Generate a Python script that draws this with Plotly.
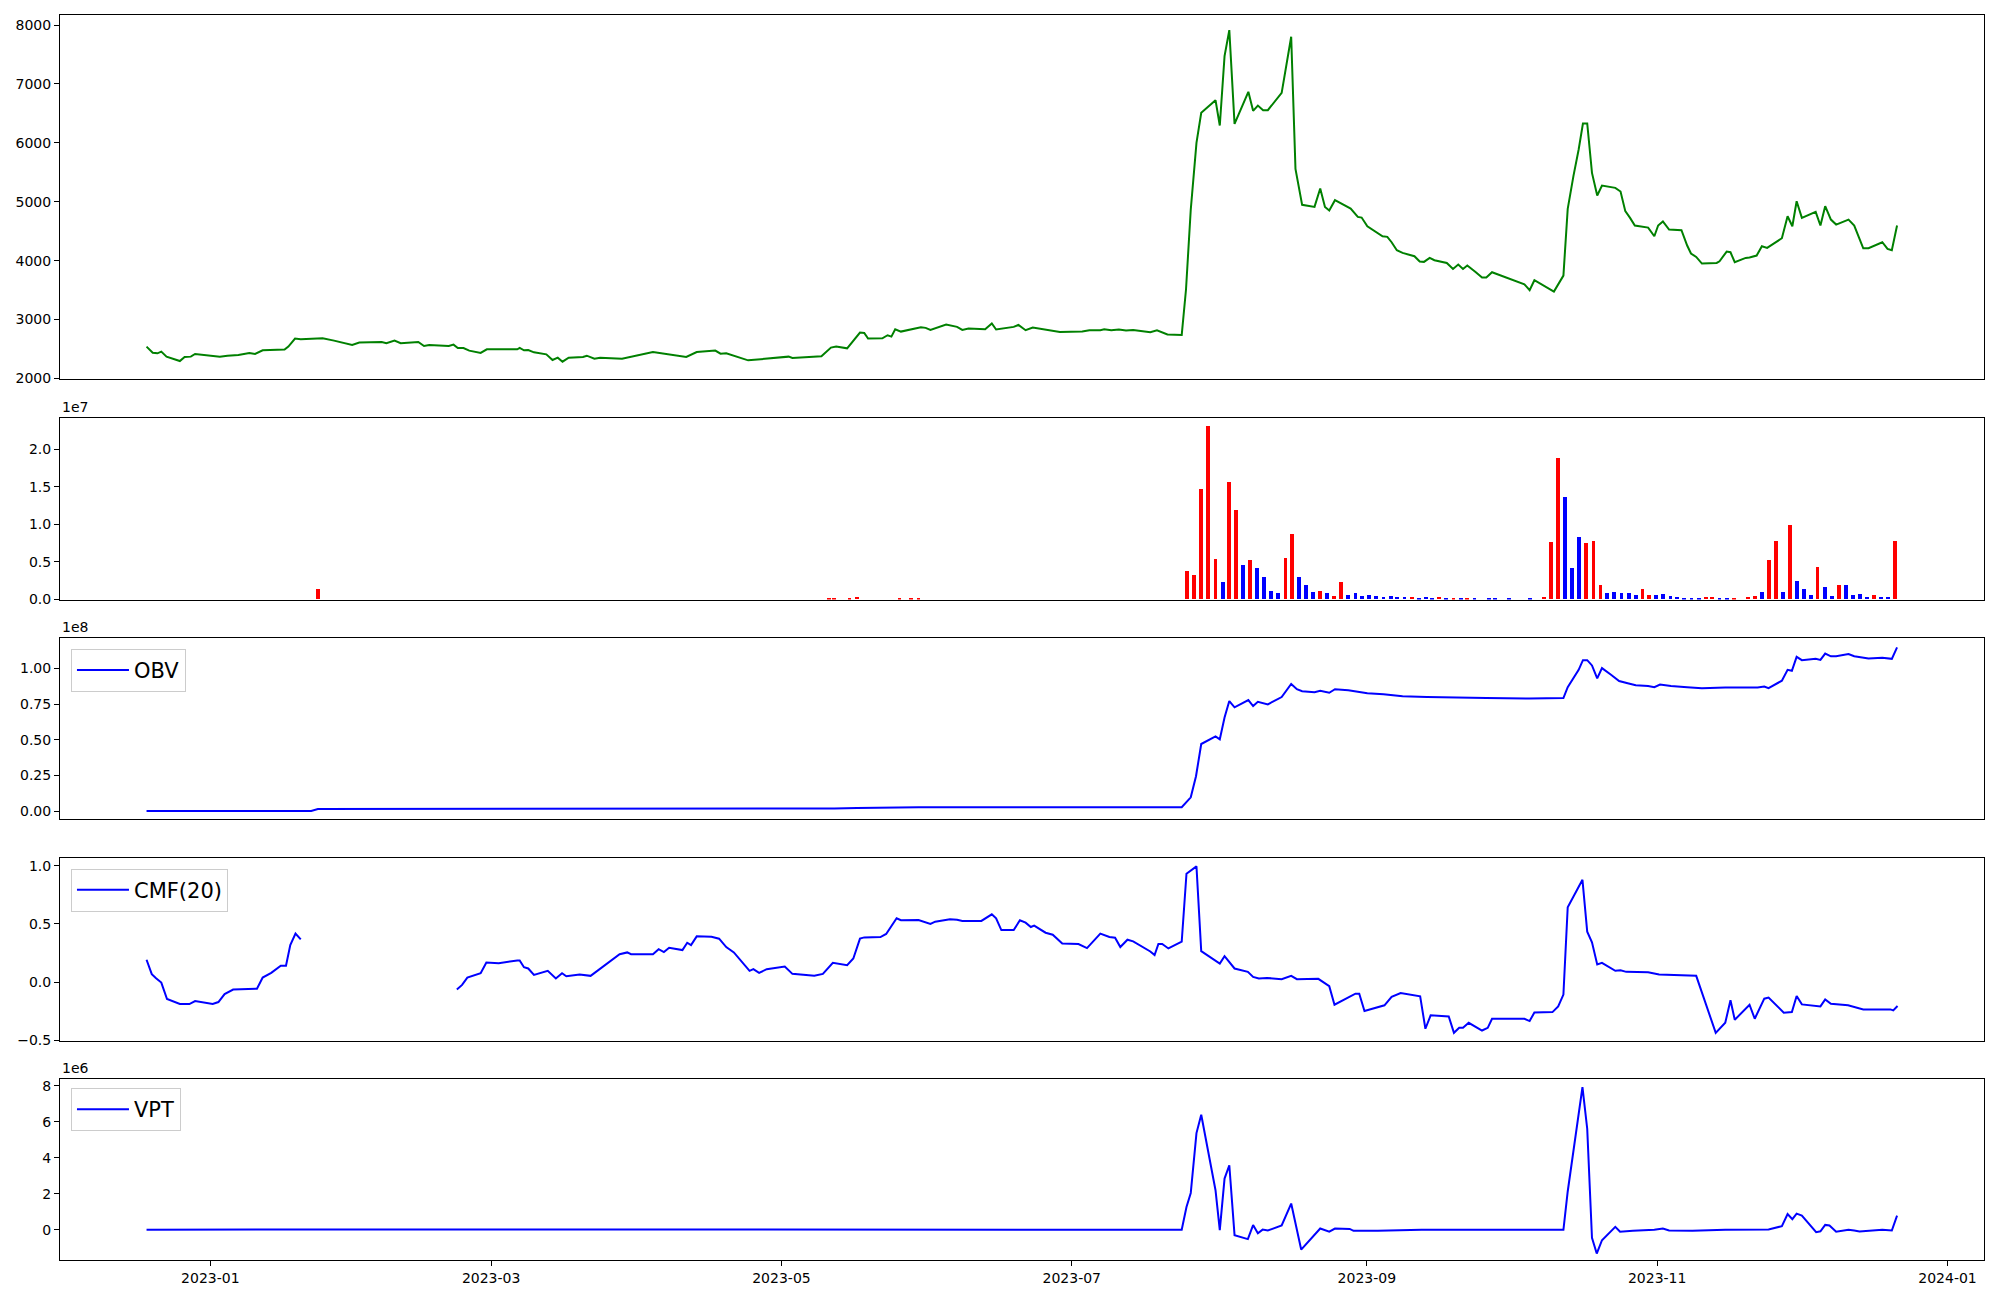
import pandas as pd
import plotly.graph_objects as go
from plotly.subplots import make_subplots

BASE = pd.Timestamp("2023-01-01")

price_day = [-13.4, -12.1, -11.1, -10.3, -9.2, -6.4, -5.4, -4.1, -3.2, 2.0, 3.6, 5.9, 8.2, 9.4, 11.0,
             15.6, 16.4, 17.8, 19.0, 23.6, 26.0, 29.8, 31.3, 36.0, 37.0, 38.7, 40.0, 43.7, 44.9, 46.0,
             50.1, 51.1, 52.0, 53.2, 54.4, 56.8, 58.1, 64.5, 65.0, 65.9, 66.8, 68.0, 70.6, 71.9, 73.0,
             74.0, 75.3, 78.3, 79.1, 80.7, 81.9, 86.5, 93.0, 100.0, 102.2, 106.1, 107.2, 108.4, 113.0, 121.5,
             122.3, 128.4, 130.4, 131.5, 133.8, 136.5, 137.4, 138.2, 141.2, 142.3, 143.1, 143.9, 145.1, 149.3, 150.3,
             151.3, 154.6, 156.9, 158.0, 159.3, 162.8, 164.2, 165.1, 168.8, 169.8, 171.3, 172.8, 175.5, 178.5, 183.2,
             184.7, 187.0, 187.8, 189.3, 190.9, 192.4, 193.9, 197.5,
             198.9, 201.1, 204.1, 205.0, 206.0, 207.2, 208.2, 211.2, 212.1, 213.1, 214.1, 215.2, 216.6, 218.1, 219.1,
             220.1, 221.2, 222.2, 225.1, 227.1, 228.0, 229.4, 232.0, 233.2, 234.2, 235.1, 236.3, 237.9, 239.6, 241.1,
             241.9, 243.1, 244.8, 246.3, 247.3, 248.2, 249.3, 250.5, 253.0, 254.1, 255.0, 256.2, 257.2, 259.8, 261.1,
             262.2, 263.2, 264.1, 265.9, 267.2, 268.1, 269.3, 276.1, 277.2, 278.2, 282.3, 284.3, 285.2, 286.4, 287.5,
             288.4, 289.3, 290.3, 291.4, 292.4, 295.2, 296.3, 297.3, 298.3, 299.3, 302.1, 303.4, 304.2, 305.2, 306.5,
             309.1, 310.3, 311.1, 312.2, 313.4, 316.5, 317.1, 318.6, 319.4, 320.3, 322.6, 323.4, 324.9, 326.0, 327.1,
             330.2, 331.4, 332.4, 333.3, 334.4, 337.3, 338.3, 339.3, 340.5, 341.6, 344.2, 345.4, 347.3, 348.4, 351.3,
             352.4, 353.3, 354.4]
price = [2540, 2437, 2426, 2455, 2370, 2295, 2364, 2370, 2415, 2370, 2386, 2398, 2432, 2415, 2477,
         2489, 2540, 2676, 2665, 2682, 2642, 2568, 2608, 2619, 2597, 2642, 2597, 2620, 2551, 2568,
         2551, 2574, 2517, 2517, 2472, 2432, 2494, 2494, 2517, 2477, 2483, 2443, 2409, 2313, 2352,
         2284, 2352, 2364, 2386, 2335, 2352, 2335, 2449, 2364, 2449, 2472, 2420, 2426, 2307, 2370,
         2347, 2375, 2523, 2540, 2511, 2778, 2773, 2676, 2682, 2733, 2710, 2835, 2795, 2869, 2858,
         2824, 2915, 2875, 2824, 2847, 2835, 2932, 2830, 2875, 2909, 2818, 2864, 2835, 2790, 2795,
         2818, 2818, 2835, 2818, 2830, 2812, 2824, 2784,
         2818, 2745, 2739, 3509, 4867, 6000, 6509, 6724, 6294, 7472, 7914, 6322, 6594, 6866, 6543,
         6632, 6554, 6554, 6849, 7800, 5558, 4947, 4912, 5224, 4912, 4850, 5026, 4963, 4884, 4743,
         4731, 4584, 4499, 4414, 4403, 4312, 4176, 4131, 4075, 3984, 3979, 4046, 4007, 3961, 3859,
         3933, 3859, 3916, 3803, 3712, 3712, 3803, 3599, 3497, 3667, 3474, 3746, 4879, 5434, 5887,
         6328, 6328, 5490, 5105, 5275, 5235, 5173, 4839, 4726, 4596, 4561, 4414, 4596, 4664, 4527,
         4516, 4256, 4120, 4063, 3950, 3961, 3989, 4154, 4142, 3973, 4046, 4052, 4086, 4244, 4216,
         4380, 4754, 4584, 5008, 4726, 4828, 4596, 4924, 4697, 4612, 4697, 4596, 4210, 4210, 4312,
         4199, 4176, 4596]

# volume in millions, R = up day (red), B = down day (blue)
vol_day = [22.6, 130.0, 131.1, 134.3, 135.9, 144.8, 147.2, 148.8,
           205.2, 206.7, 208.2, 209.7, 211.2, 212.7, 214.1, 215.5, 217.0, 218.5, 219.9, 221.4, 222.9, 224.4,
           225.9, 227.3, 228.8, 230.2, 231.7, 233.2, 234.6, 236.1, 237.6, 239.1, 240.6, 242.0, 243.5, 245.0,
           246.5, 248.0, 249.4, 250.9, 252.4, 253.9, 255.4, 256.7, 258.2, 259.7, 261.2, 262.7, 264.1, 265.6,
           268.6, 270.0, 272.9, 277.2, 280.2, 281.7, 283.2, 284.6, 286.1, 287.6, 289.1, 290.6, 292.1, 293.5,
           295.0, 296.5, 298.0, 299.5, 300.9, 302.3, 303.8, 305.3, 306.8, 308.2, 309.7, 311.2, 312.7, 314.2,
           315.6, 317.1, 318.6, 320.1, 323.0, 324.5, 326.0, 327.5, 329.0, 330.4, 331.9, 333.4, 334.9, 336.3,
           337.7, 339.2, 340.7, 342.2, 343.7, 345.1, 346.6, 348.1, 349.6, 351.1, 352.5, 354.0]
vol_m = [1.40, 0.15, 0.15, 0.15, 0.30, 0.15, 0.15, 0.15,
         3.77, 3.24, 14.69, 23.08, 5.37, 2.31, 15.62, 11.90, 4.57, 5.24, 4.17, 2.97, 1.11, 0.84,
         5.50, 8.70, 2.97, 1.91, 0.98, 1.11, 0.84, 0.44, 2.31, 0.58, 0.84, 0.44, 0.58, 0.44,
         0.31, 0.44, 0.31, 0.31, 0.31, 0.18, 0.31, 0.18, 0.31, 0.18, 0.18, 0.18, 0.18, 0.18,
         0.18, 0.18, 0.18, 0.18, 0.31, 7.63, 18.82, 13.63, 4.17, 8.30, 7.50, 7.77, 1.91, 0.84,
         0.98, 0.84, 0.84, 0.58, 1.38, 0.58, 0.58, 0.71, 0.44, 0.31, 0.18, 0.18, 0.18, 0.31,
         0.31, 0.18, 0.18, 0.18, 0.31, 0.44, 0.98, 5.24, 7.77, 0.98, 9.90, 2.44, 1.38, 0.58,
         4.31, 1.64, 0.44, 1.91, 1.91, 0.58, 0.71, 0.31, 0.58, 0.31, 0.31, 7.77]
vol_dir = list("RRRRRRRR"
               "RRRRRBRRBRBBBB"
               "RRBBBRBRRBBBBB"
               "BBBBRBBBRBRBRB"
               "BBBBRRRBBBRRRB"
               "BBBBRRBBBBBBBR"
               "RBBRRRBRRBRBBB"
               "RBBRBBBBRBBR")

obv_day = [-13.4, 21.2, 22.6, 129.5, 131.1, 135.9, 148.8, 204.1, 206.0, 207.1, 208.2, 211.2, 212.1, 213.1, 214.1,
           215.2, 218.1, 219.1, 220.1, 222.2, 225.1, 227.1, 228.3, 229.4, 232.0, 233.2, 235.1, 236.3, 239.1, 243.1,
           246.5, 250.5, 255.6, 268.1, 277.2, 284.3, 285.2, 287.5, 288.4, 289.3, 290.3, 291.4, 292.4, 294.3, 296.0,
           297.8, 299.5, 302.1, 303.4, 304.6, 306.9, 310.3, 313.4, 318.3, 325.1, 326.5, 327.4, 330.2, 331.4, 332.3,
           333.3, 334.4, 337.3, 338.3, 339.3, 340.5, 341.6, 344.2, 345.4, 348.4, 351.3, 353.3, 354.4]
obv_e8 = [0.0, 0.0, 0.014, 0.014, 0.018, 0.022, 0.027, 0.027, 0.096, 0.244, 0.470, 0.524, 0.503, 0.656, 0.771,
          0.727, 0.778, 0.736, 0.766, 0.748, 0.799, 0.891, 0.854, 0.840, 0.833, 0.843, 0.829, 0.854, 0.847, 0.826,
          0.819, 0.805, 0.799, 0.792, 0.789, 0.792, 0.868, 0.990, 1.058, 1.058, 1.021, 0.930, 1.002, 0.956, 0.912,
          0.896, 0.882, 0.877, 0.868, 0.887, 0.877, 0.868, 0.861, 0.866, 0.866, 0.873, 0.861, 0.914, 0.990, 0.983,
          1.081, 1.058, 1.067, 1.060, 1.104, 1.085, 1.085, 1.101, 1.085, 1.069, 1.074, 1.067, 1.148]

# CMF(20), None marks the stretch with no value
cmf_day = [-13.4, -12.3, -11.4, -10.3, -9.1, -6.4, -4.4, -3.2, 0.5, 1.7, 3.0, 4.8, 9.8, 11.0, 12.8,
           14.8, 15.9, 16.8, 17.9, 19.0, 35.0,
           51.8, 52.9, 54.0, 56.8, 58.0, 60.6, 64.5, 65.0, 65.9, 66.8, 68.0, 70.9, 72.6, 73.9, 74.8,
           77.6, 79.9, 86.0, 87.6, 88.4, 93.0, 94.2, 95.3, 96.4, 99.2, 100.2, 101.0, 102.2, 105.3, 106.9,
           108.4, 110.0, 113.3, 114.1, 115.3, 116.9, 120.7, 122.3, 126.9, 128.7, 130.8, 133.8, 135.1, 136.5, 137.4,
           140.8, 142.0, 144.2, 145.1, 148.8, 151.3, 152.3, 155.4, 156.9, 158.0, 162.0, 164.2, 165.1, 166.2, 168.8,
           170.1, 171.3, 172.4, 173.1, 175.5, 177.0, 179.0, 182.4, 184.2, 187.0, 188.9, 190.1, 191.2, 192.7, 193.9,
           197.5,
           198.4, 199.2, 200.0, 201.3, 204.1, 205.1, 207.2, 208.2, 212.1, 213.1, 215.2, 218.0, 219.1, 220.3, 222.0,
           225.1, 227.1, 228.3, 232.8, 235.1, 236.2, 240.6, 241.4, 242.5, 246.7, 248.2, 250.1, 254.2, 255.3, 256.4,
           260.2, 261.3, 262.4, 263.2, 264.4, 267.2, 268.4, 269.3, 276.1, 277.2, 278.2, 282.0, 283.2, 284.3, 285.2,
           286.4, 288.3, 289.3, 290.3, 291.4, 292.4, 295.2, 296.3, 297.5, 302.1, 304.4, 312.2, 316.3, 318.3, 319.4,
           320.3, 323.4, 324.5, 326.5, 327.4, 330.6, 332.3, 333.3, 334.4, 338.3, 339.3, 340.5, 344.1, 347.3, 353.0,
           353.6, 354.5]
cmf = [0.193, 0.069, 0.034, -0.003, -0.144, -0.187, -0.187, -0.161, -0.187, -0.170, -0.101, -0.063, -0.055, 0.040, 0.080,
       0.141, 0.141, 0.319, 0.417, 0.368, None,
       -0.063, -0.023, 0.040, 0.078, 0.170, 0.164, 0.187, 0.187, 0.129, 0.118, 0.063, 0.098, 0.032, 0.078, 0.052,
       0.066, 0.055, 0.241, 0.256, 0.241, 0.241, 0.284, 0.259, 0.296, 0.276, 0.339, 0.319, 0.394, 0.391, 0.374,
       0.302, 0.256, 0.098, 0.112, 0.080, 0.112, 0.135, 0.072, 0.055, 0.072, 0.167, 0.147, 0.204, 0.374, 0.385,
       0.388, 0.414, 0.549, 0.532, 0.534, 0.500, 0.520, 0.540, 0.537, 0.526, 0.526, 0.583, 0.549, 0.448, 0.448,
       0.532, 0.511, 0.474, 0.486, 0.425, 0.408, 0.333, 0.328, 0.293, 0.417, 0.388, 0.382, 0.302, 0.365, 0.351,
       0.264,
       0.233, 0.328, 0.328, 0.290, 0.348, 0.931, 0.994, 0.267, 0.161, 0.224, 0.118, 0.089, 0.046, 0.032, 0.037,
       0.026, 0.055, 0.026, 0.029, -0.034, -0.193, -0.098, -0.098, -0.247, -0.198, -0.126, -0.092, -0.121, -0.399, -0.284,
       -0.293, -0.434, -0.391, -0.391, -0.348, -0.414, -0.391, -0.313, -0.313, -0.333, -0.259, -0.256, -0.207, -0.106, 0.644,
       0.736, 0.879, 0.434, 0.342, 0.152, 0.167, 0.098, 0.103, 0.089, 0.086, 0.066, 0.055, -0.434, -0.348, -0.155,
       -0.322, -0.193, -0.313, -0.141, -0.132, -0.261, -0.256, -0.118, -0.190, -0.207, -0.147, -0.184, -0.198, -0.233, -0.233,
       -0.241, -0.204]

vpt_day = [-13.4, 22.6, 204.1, 205.1, 206.0, 207.2, 208.2, 210.0, 211.2, 212.1, 213.1, 214.1, 215.2, 218.0, 219.1,
           220.1, 221.1, 222.2, 225.1, 227.1, 229.2, 233.2, 235.1, 236.3, 239.4, 240.2, 245.3, 254.5, 284.3, 285.2,
           286.4, 288.3, 289.3, 290.3, 291.3, 292.4, 295.2, 296.2, 298.9, 303.4, 305.2, 306.5, 311.4, 318.3, 327.4,
           330.2, 331.4, 332.4, 333.3, 334.4, 337.4, 338.3, 339.3, 340.2, 341.6, 344.2, 345.4, 346.5, 351.3, 353.3,
           354.4]
vpt_e6 = [0.0, 0.02, 0.0, 1.27, 2.05, 5.38, 6.40, 3.86, 2.20, -0.02, 2.85, 3.59, -0.30, -0.52, 0.26,
          -0.19, 0.01, -0.04, 0.24, 1.46, -1.10, 0.07, -0.10, 0.07, 0.05, -0.06, -0.06, 0.0, 0.0, 2.13,
          4.35, 7.93, 5.62, -0.45, -1.32, -0.58, 0.16, -0.11, -0.06, 0.0, 0.07, -0.04, -0.06, 0.0, 0.02,
          0.20, 0.88, 0.59, 0.90, 0.79, -0.13, -0.08, 0.27, 0.24, -0.11, 0.0, -0.04, -0.10, 0.0, -0.04,
          0.79]

x_ticks = ["2023-01-01", "2023-03-01", "2023-05-01", "2023-07-01", "2023-09-01", "2023-11-01", "2024-01-01"]


def to_dates(days):
    return [BASE + pd.Timedelta(days=d) for d in days]


FONT = "DejaVu Sans"
fig = make_subplots(rows=5, cols=1)

fig.add_trace(go.Scatter(x=to_dates(price_day), y=price, mode="lines",
                         line=dict(color="green", width=2), showlegend=False), row=1, col=1)

bar_colors = ["red" if d == "R" else "blue" for d in vol_dir]
fig.add_trace(go.Bar(x=to_dates(vol_day), y=[v * 1e6 for v in vol_m], marker=dict(color=bar_colors, line_width=0),
                     width=0.8 * 86400000, showlegend=False), row=2, col=1)

fig.add_trace(go.Scatter(x=to_dates(obv_day), y=[v * 1e8 for v in obv_e8], mode="lines", name="OBV",
                         line=dict(color="blue", width=2), legend="legend"), row=3, col=1)
fig.add_trace(go.Scatter(x=to_dates(cmf_day), y=cmf, mode="lines", name="CMF(20)", connectgaps=False,
                         line=dict(color="blue", width=2), legend="legend2"), row=4, col=1)
fig.add_trace(go.Scatter(x=to_dates(vpt_day), y=[v * 1e6 for v in vpt_e6], mode="lines", name="VPT",
                         line=dict(color="blue", width=2), legend="legend3"), row=5, col=1)

domains = [[0.708, 1.0], [0.5305, 0.676], [0.3543, 0.4998], [0.1761, 0.3226], [0.0, 0.1453]]
x_range = ["2022-11-30 10:00", "2024-01-08 16:00"]
axis_common = dict(showline=True, mirror=True, linecolor="black", linewidth=1, showgrid=False, zeroline=False,
                   ticks="outside", ticklen=5, tickwidth=1, tickcolor="black", automargin=False,
                   tickfont=dict(family=FONT, size=14, color="black"))

y_specs = [
    dict(range=[1998, 8170], tickvals=[2000, 3000, 4000, 5000, 6000, 7000, 8000]),
    dict(range=[0, 2.41e7], tickvals=[0, 5e6, 1e7, 1.5e7, 2e7], ticktext=["0.0", "0.5", "1.0", "1.5", "2.0"]),
    dict(range=[-0.055e8, 1.215e8], tickvals=[0, 0.25e8, 0.5e8, 0.75e8, 1e8],
         ticktext=["0.00", "0.25", "0.50", "0.75", "1.00"]),
    dict(range=[-0.502, 1.063], tickvals=[-0.5, 0, 0.5, 1.0], ticktext=["\u22120.5", "0.0", "0.5", "1.0"]),
    dict(range=[-1.68e6, 8.38e6], tickvals=[0, 2e6, 4e6, 6e6, 8e6], ticktext=["0", "2", "4", "6", "8"]),
]

for i in range(5):
    sfx = "" if i == 0 else str(i + 1)
    fig.layout["yaxis" + sfx].update(domain=domains[i], **axis_common, **y_specs[i])
    xa = dict(range=x_range, **axis_common)
    if i < 4:
        xa.update(showticklabels=False, ticks="")
    else:
        xa.update(tickvals=x_ticks, tickformat="%Y-%m")
    fig.layout["xaxis" + sfx].update(**xa)

# scale labels above the axes
for txt, top in [("1e7", domains[1][1]), ("1e8", domains[2][1]), ("1e6", domains[4][1])]:
    fig.add_annotation(text=txt, xref="paper", yref="paper", x=0, y=top, xanchor="left", yanchor="bottom",
                       yshift=1, showarrow=False, font=dict(family=FONT, size=14, color="black"))

legend_style = dict(xanchor="left", yanchor="top", x=0.0057, bgcolor="rgba(255,255,255,0.8)",
                    bordercolor="#cccccc", borderwidth=1, font=dict(family=FONT, size=21, color="black"),
                    itemwidth=52, tracegroupgap=0)

# the page body adds an 8px offset, so margins are shifted to compensate
fig.update_layout(
    width=2000, height=1300,
    margin=dict(l=52, r=24, t=7, b=48, pad=0),
    plot_bgcolor="white", paper_bgcolor="white",
    bargap=0,
    legend=dict(y=0.4908, **legend_style),
    legend2=dict(y=0.3144, **legend_style),
    legend3=dict(y=0.1381, **legend_style),
    font=dict(family=FONT, size=14, color="black"),
)

fig.write_html("out.html")
